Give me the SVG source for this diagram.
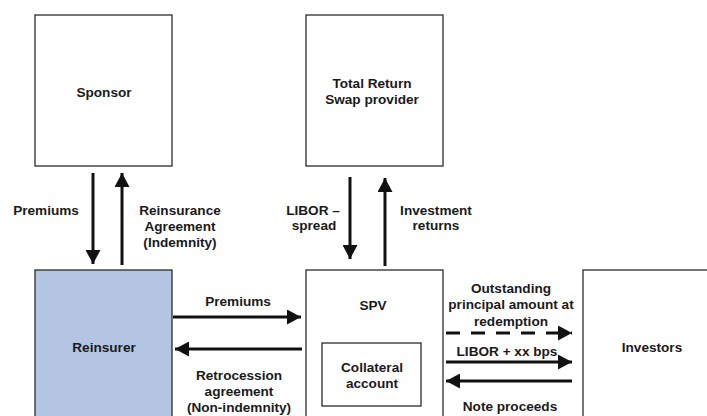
<svg xmlns="http://www.w3.org/2000/svg" width="707" height="416" viewBox="0 0 707 416">
<defs>
<style>
.box{fill:#fff;stroke:#2b2b2b;stroke-width:1.3}
.t{font-family:"Liberation Sans",Arial,sans-serif;font-weight:bold;font-size:13.6px;fill:#1a1a1a;text-anchor:middle}
.a{stroke:#111;stroke-width:3;fill:none;marker-end:url(#ah)}
</style>
<marker id="ah" markerUnits="userSpaceOnUse" markerWidth="15" markerHeight="15" refX="14" refY="7.5" orient="auto">
<path d="M0,0 L14,7.5 L0,15 z" fill="#111"/>
</marker>
</defs>
<rect width="707" height="416" fill="#fff"/>
<g id="sponsor"><rect class="box" x="35" y="15" width="137" height="151"/><text class="t" x="104" y="97">Sponsor</text></g>
<g id="trs"><rect class="box" x="306" y="15" width="137" height="151"/><text class="t" x="372" y="88">Total Return</text><text class="t" x="372" y="104">Swap provider</text></g>
<g id="reinsurer"><rect class="box" x="35" y="270" width="137" height="160" style="fill:#b3c5e2"/><text class="t" x="104" y="352">Reinsurer</text></g>
<g id="spv"><rect class="box" x="306" y="270" width="137" height="160"/><text class="t" x="373" y="310">SPV</text></g>
<g id="collateral"><rect class="box" x="322" y="343" width="99" height="63"/><text class="t" x="372" y="372">Collateral</text><text class="t" x="372" y="388">account</text></g>
<g id="investors"><rect class="box" x="583" y="270" width="137" height="160"/><text class="t" x="652" y="352">Investors</text></g>
<g id="connectors">
<line class="a" x1="93" y1="173" x2="93" y2="264"/>
<line class="a" x1="122" y1="265" x2="122" y2="173"/>
<line class="a" x1="350" y1="177" x2="350" y2="259"/>
<line class="a" x1="385" y1="266" x2="385" y2="178"/>
<line class="a" x1="173" y1="317" x2="301" y2="317"/>
<line class="a" x1="302" y1="349" x2="175" y2="349"/>
<line class="a" x1="446" y1="333" x2="572" y2="333" stroke-dasharray="14 11"/>
<line class="a" x1="446" y1="362" x2="572" y2="362"/>
<line class="a" x1="572" y1="381" x2="446" y2="381"/>
</g>
<g id="labels">
<text class="t" x="46" y="215">Premiums</text>
<text class="t" x="180" y="215">Reinsurance</text>
<text class="t" x="180" y="231">Agreement</text>
<text class="t" x="180" y="247">(Indemnity)</text>
<text class="t" x="313" y="215">LIBOR –</text>
<text class="t" x="314" y="230">spread</text>
<text class="t" x="436" y="215">Investment</text>
<text class="t" x="436" y="230">returns</text>
<text class="t" x="238" y="306">Premiums</text>
<text class="t" x="239" y="380">Retrocession</text>
<text class="t" x="239" y="396">agreement</text>
<text class="t" x="239" y="412">(Non-indemnity)</text>
<text class="t" x="511" y="293">Outstanding</text>
<text class="t" x="511" y="309">principal amount at</text>
<text class="t" x="511" y="326">redemption</text>
<text class="t" x="507" y="356">LIBOR + xx bps</text>
<text class="t" x="510" y="411">Note proceeds</text>
</g>
</svg>
